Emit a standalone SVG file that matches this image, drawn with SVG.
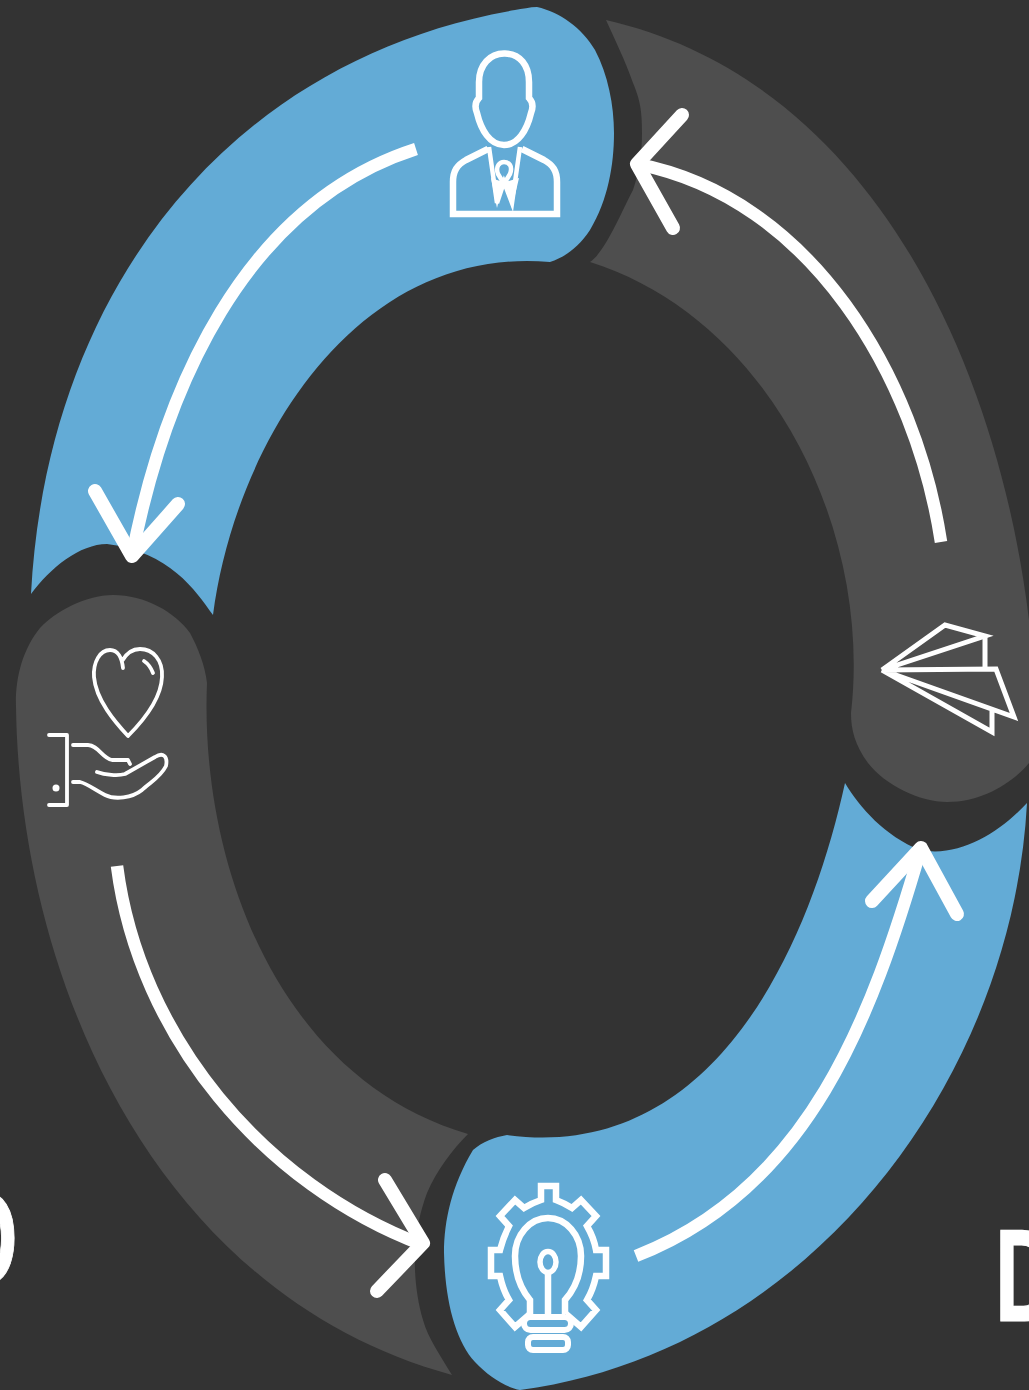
<svg xmlns="http://www.w3.org/2000/svg" width="1029" height="1390" viewBox="0 0 1029 1390">
<style>
.blue{fill:#63abd6}
.grey{fill:#4e4e4e}
.ic{fill:none;stroke:#fff;stroke-linejoin:miter}
.thin{stroke-width:3.8;stroke-linecap:round;stroke-linejoin:round}
.arc{fill:none;stroke:#fff;stroke-width:12.5}
.head{fill:none;stroke:#fff;stroke-width:14;stroke-linecap:round;stroke-linejoin:round}
.big{font-family:"Liberation Sans",Arial,sans-serif;font-weight:700;font-size:132px;fill:#fff;stroke:#fff;stroke-width:1.2}
</style>
<rect width="1029" height="1390" fill="#333333"/>
<g id="node-person">
<path class="blue" d="M31 594C47 291 229 59 515 10C522 9 530 7 537 7C560 12 582 28 595 50C608 75 614 105 614 133C614 165 608 200 590 230C578 248 565 257 550 262C355 245 235 445 213 615C195 590 170 552 107 544C80 544 50 568 31 594Z"/>
<g class="ic" stroke-width="6.5">
<path d="M505 53.500C490 53 479 65 479 82L479 98C475 102 475 108 477 113C481 130 490 145 504 145C518 145 527 130 531 113C533 108 533 102 529 98L529 82C529 65 520 54 505 53.500Z"/>
<path d="M488 149L466 160C457 165 453 171 453 182L453 214L557 214L557 182C557 171 553 165 544 160L522 149"/>
<path d="M489 147L497 203L504 182L512 203L520 147" stroke-width="4.500"/>
<path d="M497 208L491 178L503 182ZM512 208L519 178L505 182Z" fill="#fff" stroke="none"/>
<path d="M498 174C495 166 500 162 504 162C509 162 513 166 510 174L504 184Z" stroke-width="4.500"/>
</g>
</g>
<g id="node-plane">
<path class="grey" d="M606 20C876 82 999 372 1029 620L1029 763C1015 780 985 802 947 802C920 802 885 785 868 763C855 745 851 730 851 713C872 531 771 319 590 262C605 252 620 215 633 190C640 170 642 150 642 133C642 110 640 100 633 83C625 60 615 40 606 20Z"/>
<g class="ic" stroke-width="5">
<path d="M882 670L945 625L985 636L882 670L996 669L1014 717L882 670L992 732L992 710"/>
<path d="M985 636V668"/>
</g>
</g>
<g id="node-bulb">
<path class="blue" d="M845 783C860 808 885 836 920 850C960 858 1000 832 1027 803C1012 1083 807 1352 520 1390C505 1387 488 1376 475 1362C455 1340 445 1300 444 1253C444 1220 452 1185 473 1150C482 1142 495 1137 507 1135C713 1163 809 948 845 783Z"/>
<g class="ic" stroke-width="6.500">
<path d="M530 1314L515 1327L500 1310L509 1300Q503 1290 500 1276H491V1250H500Q503 1238 509 1226L500 1216L515 1200L524 1208Q532 1203 541 1200V1186H556V1200Q564 1203 572 1208L581 1200L596 1216L587 1226Q594 1238 596 1250H606V1276H596Q593 1290 587 1300L596 1310L581 1327L566 1314"/>
<path d="M530 1314V1300Q515 1282 515 1256C515 1235 530 1218 548 1218C566 1218 581 1235 581 1256Q581 1282 565 1300V1314"/>
<ellipse cx="548" cy="1262" rx="8" ry="10.500" stroke-width="5.500"/>
<path d="M548 1273V1314"/>
<rect x="524" y="1317" width="47" height="13" rx="6.500" stroke-width="6"/>
<rect x="528" y="1337" width="40" height="13" rx="5" stroke-width="6"/>
</g>
</g>
<g id="node-heart">
<path class="grey" d="M207 683C205 665 198 648 190 633C175 612 145 595 113 595C85 595 55 612 40 628C22 650 15 680 16 707C20 987 160 1296 452 1375C440 1355 428 1338 423 1320C417 1300 414 1275 415 1253C416 1230 420 1212 427 1193C437 1170 452 1150 468 1134C277.500 1078 199.500 862 207 683Z"/>
<g class="ic thin">
<path d="M123 668C122 658 118 650 110 650C100 650 93 662 94 677C96 700 115 722 128 736C142 722 161 700 162 677C163 660 153 649 140 649C132 649 126 654 122 661"/>
<path d="M144 661Q150 665 153 673"/>
<path d="M49 735H67V805H49"/>
<path d="M73 745H88C98 745 102 758 112 760H128L130 764"/>
<path d="M97 772C105 775 118 776 125 774L155 757C163 752 168 756 166 766C160 778 150 782 142 790C132 798 115 800 105 795C95 790 88 784 80 782L73 782"/>
</g>
<circle cx="56" cy="788" r="3.500" fill="#fff"/>
</g>
<g id="connectors">
<path class="arc" d="M416 149C242 205 164 392 132 556"/>
<path class="head" d="M95 491L132 556L178 504"/>
<path class="arc" d="M941 542C916 378 812 198 637 164"/>
<path class="head" d="M682 115L637 164L673 228"/>
<path class="arc" d="M636 1256C809 1189 872 1017 921 848"/>
<path class="head" d="M872 901L921 848L957 914"/>
<path class="arc" d="M117 866C139 1037 264 1185 423 1245"/>
<path class="head" d="M385 1180L423 1243L377 1291"/>
</g>
<g id="labels">
<text class="big" transform="translate(-49 1284) scale(.65 1)">O</text>
<text class="big" transform="translate(995 1321) scale(.65 1)">D</text>
</g>
</svg>
